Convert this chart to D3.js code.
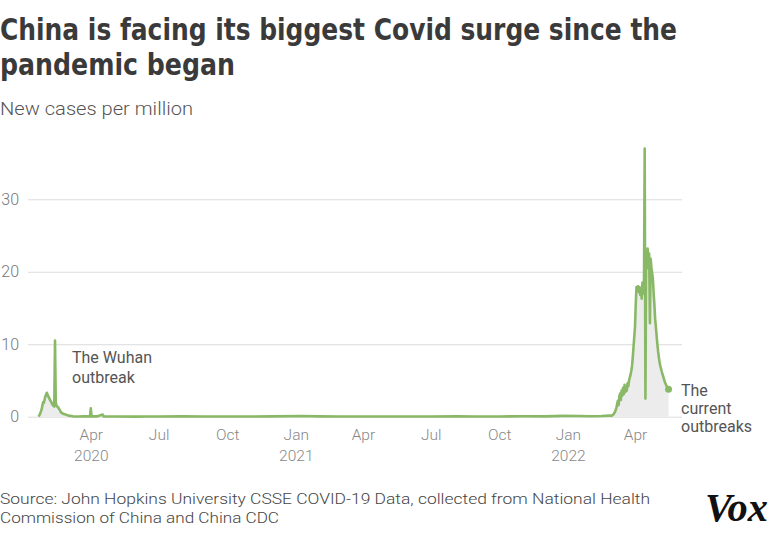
<!DOCTYPE html>
<html><head><meta charset="utf-8">
<script src="https://cdn.jsdelivr.net/npm/d3@7"></script>
<style>body{margin:0;background:#fff} svg{display:block}</style>
</head><body><svg id="c" width="770" height="540"></svg>
<script>
const dates = [
"2020-01-22","2020-01-24","2020-01-26","2020-01-28","2020-01-29","2020-01-31","2020-02-02","2020-02-04","2020-02-06","2020-02-08","2020-02-10","2020-02-12","2020-02-13","2020-02-14","2020-02-15","2020-02-17","2020-02-19","2020-02-21","2020-02-24","2020-02-27","2020-03-02","2020-03-08","2020-03-15","2020-03-22","2020-03-31","2020-04-01","2020-04-02","2020-04-10","2020-04-17","2020-04-18","2020-05-01",
"2020-06-01","2020-06-15","2020-07-01","2020-08-01","2020-09-01","2020-10-01","2020-11-01","2020-12-01","2021-01-10","2021-02-01","2021-03-01","2021-04-01","2021-05-01","2021-06-01","2021-07-01","2021-08-05","2021-09-01","2021-10-01","2021-11-05","2021-12-01","2021-12-25","2022-01-15","2022-02-01","2022-02-15","2022-02-25",
"2022-03-01","2022-03-03","2022-03-05","2022-03-07","2022-03-09","2022-03-10","2022-03-11","2022-03-12","2022-03-13","2022-03-14","2022-03-15","2022-03-16","2022-03-17","2022-03-18","2022-03-19","2022-03-20","2022-03-21","2022-03-22","2022-03-23","2022-03-24","2022-03-25","2022-03-26","2022-03-27","2022-03-28","2022-03-29","2022-03-30","2022-03-31",
"2022-04-01","2022-04-02","2022-04-03","2022-04-04","2022-04-05","2022-04-06","2022-04-07","2022-04-08","2022-04-09","2022-04-10","2022-04-11","2022-04-12","2022-04-13","2022-04-14","2022-04-15","2022-04-16","2022-04-17","2022-04-18","2022-04-19","2022-04-20","2022-04-21","2022-04-22","2022-04-23","2022-04-24","2022-04-25","2022-04-26","2022-04-27","2022-04-28","2022-04-29","2022-04-30",
"2022-05-01","2022-05-02","2022-05-03","2022-05-04","2022-05-05","2022-05-07","2022-05-09","2022-05-11","2022-05-13","2022-05-15","2022-05-16"
];
const cases = [
0.0,0.4,1.0,2.0,1.9,2.8,3.3,2.8,2.4,2.0,1.6,1.4,10.5,2.0,1.5,1.3,1.0,0.6,0.4,0.3,0.15,0.05,0.02,0.05,0.05,1.15,0.05,0.05,0.3,0.05,0.02,
0.01,0.03,0.02,0.05,0.02,0.02,0.03,0.04,0.09,0.05,0.02,0.02,0.02,0.03,0.03,0.07,0.03,0.03,0.06,0.05,0.12,0.1,0.07,0.1,0.15,
0.15,0.3,0.6,1.2,2.2,1.6,2.8,3.2,2.3,3.6,2.9,4.0,3.1,4.4,3.4,4.0,3.6,4.6,4.2,5.0,5.4,5.8,6.3,7.0,8.2,9.6,11.0,
12.4,15.5,17.9,17.4,18.0,17.2,17.9,16.8,17.5,16.3,18.5,17.0,17.2,37.0,2.5,22.8,21.5,23.2,20.5,22.5,12.9,21.8,20.6,19.8,19.0,17.0,15.5,13.5,12.4,11.2,
10.0,9.0,8.2,7.5,7.0,6.2,5.5,4.8,4.3,4.0,3.8
];
const tickDates = ["2020-04-01","2020-07-01","2020-10-01","2021-01-01","2021-04-01","2021-07-01","2021-10-01","2022-01-01","2022-04-01"];
const tickMonths = ["Apr","Jul","Oct","Jan","Apr","Jul","Oct","Jan","Apr"];
const tickYears = ["2020","","","2021","","","","2022",""];
const yTicks = [0,10,20,30];

const parse = d3.utcParse("%Y-%m-%d");
const data = dates.map((d,i)=>({date:parse(d), value:cases[i]}));
const svg = d3.select("#c");
svg.append("rect").attr("width",770).attr("height",540).attr("fill","#fff");

const x = d3.scaleUtc().domain([parse("2020-04-01"), parse("2022-04-01")]).range([90.8, 635]);
const y = d3.scaleLinear().domain([0,30]).range([416.7,199.3]);

const lightFont = "Roboto, 'Liberation Sans', sans-serif";

// gridlines
const grid = svg.append("g").attr("transform","translate(28,0)")
  .call(d3.axisLeft(y).tickValues(yTicks).tickSize(-654).tickFormat(""));
grid.select(".domain").remove();
grid.selectAll("line").attr("stroke","#dcdcdc").attr("stroke-width",1);

// y labels
const ya = svg.append("g").attr("transform","translate(19,0)")
  .call(d3.axisLeft(y).tickValues(yTicks).tickSize(0).tickPadding(0));
ya.select(".domain").remove();
ya.selectAll("text").attr("font-family",lightFont).attr("font-weight",300)
  .attr("font-size",16).attr("fill","#777");

// x labels
const xa = svg.append("g").attr("transform","translate(0,429)")
  .call(d3.axisBottom(x).tickValues(tickDates.map(parse)).tickSize(0).tickPadding(0)
    .tickFormat((d,i)=>tickMonths[i]));
xa.select(".domain").remove();
xa.selectAll("text").attr("font-family",lightFont).attr("font-weight",300)
  .attr("font-size",15.5).attr("fill","#888");
xa.selectAll(".tick").append("text")
  .text((d,i)=>tickYears[i])
  .attr("y",21).attr("dy","0.71em").attr("text-anchor","middle")
  .attr("font-family",lightFont).attr("font-weight",300)
  .attr("font-size",15.5).attr("fill","#888");

// area + line
svg.append("path").datum(data)
  .attr("d", d3.area().x(d=>x(d.date)).y0(y(0)).y1(d=>y(d.value)))
  .attr("fill","#ececec");
svg.append("path").datum(data)
  .attr("d", d3.line().x(d=>x(d.date)).y(d=>y(d.value)))
  .attr("fill","none").attr("stroke","#89b966").attr("stroke-width",2.6)
  .attr("stroke-linejoin","round");
const last = data[data.length-1];
svg.append("circle").attr("cx",x(last.date)).attr("cy",y(last.value)).attr("r",3.5).attr("fill","#89b966");

// title
const title = svg.append("g").attr("font-family","'Liberation Sans Narrow','DejaVu Sans Condensed',sans-serif")
  .attr("font-weight",700).attr("fill","#3a3a3a").attr("font-size",31);
title.append("text").attr("x",0).attr("y",40).text("China is facing its biggest Covid surge since the")
  .attr("textLength",677).attr("lengthAdjust","spacingAndGlyphs");
title.append("text").attr("x",0).attr("y",75).text("pandemic began")
  .attr("textLength",235).attr("lengthAdjust","spacingAndGlyphs");

svg.append("text").attr("x",0).attr("y",115).text("New cases per million")
  .attr("font-family",lightFont).attr("font-weight",300).attr("font-size",18).attr("fill","#555")
  .attr("textLength",193).attr("lengthAdjust","spacingAndGlyphs");

// annotations
const ann = svg.append("g").attr("font-family",lightFont).attr("font-weight",400).attr("font-size",16).attr("fill","#555");
ann.append("text").attr("x",72).attr("y",363).text("The Wuhan");
ann.append("text").attr("x",72).attr("y",383).text("outbreak");
ann.append("text").attr("x",681).attr("y",396).text("The");
ann.append("text").attr("x",681).attr("y",414).text("current");
ann.append("text").attr("x",681).attr("y",432).text("outbreaks");

// source
const src = svg.append("g").attr("font-family",lightFont).attr("font-weight",300).attr("font-size",15.5).attr("fill","#444");
src.append("text").attr("x",0).attr("y",504).text("Source: John Hopkins University CSSE COVID-19 Data, collected from National Health")
  .attr("textLength",650).attr("lengthAdjust","spacingAndGlyphs");
src.append("text").attr("x",0).attr("y",523).text("Commission of China and China CDC")
  .attr("textLength",279).attr("lengthAdjust","spacingAndGlyphs");

// logo
svg.append("text").attr("x",705).attr("y",521).text("Vox")
  .attr("font-family","'Liberation Serif','DejaVu Serif',serif").attr("font-weight",700).attr("font-style","italic")
  .attr("font-size",40).attr("fill","#111").attr("textLength",63).attr("lengthAdjust","spacingAndGlyphs");
</script></body></html>
